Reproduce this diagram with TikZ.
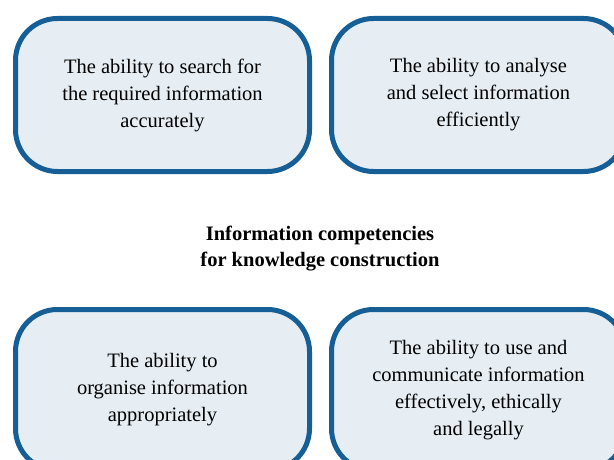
\documentclass[tikz,border=0pt]{standalone}
\usepackage{fontspec}
\setmainfont{Liberation Serif}
\usetikzlibrary{positioning}
\definecolor{compblue}{RGB}{22,94,150}
\definecolor{compfill}{RGB}{230,238,244}
\tikzset{ability/.style={draw=compblue,fill=compfill,line width=5pt,
	rounded corners=42pt,minimum width=294pt,minimum height=153pt,
	align=center,font=\fontsize{20.5}{27}\selectfont}}

\begin{document}
\begin{tikzpicture}[x=1pt,y=-1pt,node distance=17pt and 17pt]
	\useasboundingbox (0,0) rectangle (614,460);
	\clip (0,0) rectangle (614,460);
	% top row
	\node[ability] (search) at (162.5,95) {The ability to search for\\the required information\\accurately};
	\node[ability,right=of search] (analyse) {The ability to analyse\\and select information\\efficiently};
	% centre title
	\node[align=center,font=\bfseries\fontsize{20.5}{26}\selectfont] (title) at (320,249)
		{Information competencies\\for knowledge construction};
	% bottom row
	\node[ability,minimum height=161pt] (organise) at (162.5,390) {The ability to\\organise information\\appropriately};
	\node[ability,minimum height=161pt,right=of organise] (use) {The ability to use and\\communicate information\\effectively, ethically\\and legally};
\end{tikzpicture}
\end{document}
